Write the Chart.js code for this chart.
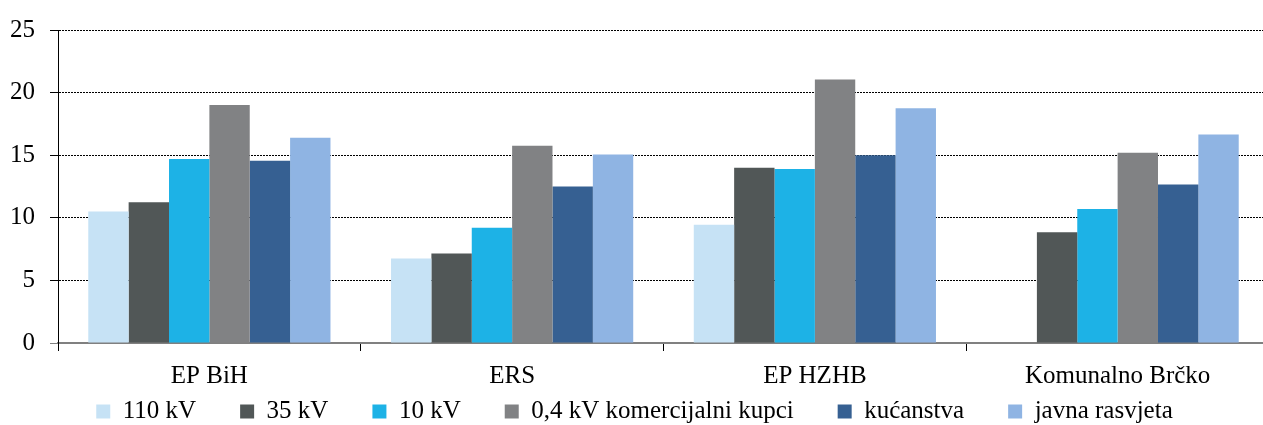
<!DOCTYPE html>
<html>
<head>
<meta charset="utf-8">
<script src="https://cdn.jsdelivr.net/npm/chart.js@4"></script>
<style>
  html, body { margin: 0; padding: 0; background: #fff; overflow: hidden; }
  #wrap { width: 1269px; height: 425px; }
  .warm { position: absolute; left: 0; top: 0; font-family: 'Times New Roman'; font-size: 25px; color: #fff; z-index: -1; }
</style>
</head>
<body>
<div class="warm">EP BiH ERS 0123456789 kućanstva Brčko kV</div>
<div id="wrap"><canvas id="tariffChart" width="1269" height="425"></canvas></div>
<script>
const companies = ["EP BiH", "ERS", "EP HZHB", "Komunalno Brčko"];
const yTicks = [0, 5, 10, 15, 20, 25];

// values per customer category
const kv110 = [10.5, 6.75, 9.45, null];
const kv35 = [11.25, 7.15, 14.0, 8.85];
const kv10 = [14.7, 9.2, 13.9, 10.7];
const kv04 = [19.0, 15.75, 21.05, 15.2];
const households = [14.55, 12.5, 15.0, 12.65];
const publicLight = [16.4, 15.05, 18.75, 16.65];

const seriesNames = ["110 kV", "35 kV", "10 kV", "0,4 kV komercijalni kupci", "kućanstva", "javna rasvjeta"];
const seriesColors = ["#C6E2F5", "#515757", "#1DB2E6", "#818284", "#366092", "#8FB4E3"];
const seriesData = [kv110, kv35, kv10, kv04, households, publicLight];

const serif = 'Times New Roman'; // maps to Liberation Serif

// x labels sit over the legend band, so widen the label clip box after layout
const labelRoom = {
  id: 'labelRoom',
  afterLayout(chart) {
    chart.scales.x.bottom = chart.height;
  }
};

function draw() {
  new Chart(document.getElementById("tariffChart"), {
    type: 'bar',
    data: {
      labels: companies,
      datasets: seriesData.map((d, i) => ({
        label: seriesNames[i],
        data: d,
        backgroundColor: seriesColors[i],
        borderWidth: 0,
        categoryPercentage: 0.8,
        barPercentage: 1.0
      }))
    },
    plugins: [labelRoom],
    options: {
      responsive: false,
      animation: false,
      layout: { padding: { top: 23, left: 0, right: 0, bottom: 0 } },
      plugins: {
        tooltip: { enabled: false },
        legend: {
          position: 'bottom',
          maxHeight: 70,
          labels: {
            boxWidth: 14,
            boxHeight: 14,
            padding: 44,
            color: '#000',
            font: { family: serif, size: 25 }
          }
        }
      },
      scales: {
        x: {
          grid: {
            offset: true,
            drawOnChartArea: false,
            drawTicks: true,
            tickLength: 8,
            color: '#000'
          },
          border: { color: '#808080', width: 2 },
          ticks: { color: '#000', padding: 10, font: { family: serif, size: 25 } },
          afterFit: (s) => { s.height = 12; }
        },
        y: {
          min: 0,
          max: 25,
          afterBuildTicks: (s) => { s.ticks = yTicks.map(v => ({ value: v })); },
          grid: {
            color: (c) => c.tick && c.tick.value === 0 ? 'rgba(0,0,0,0)' : '#000',
            tickColor: (c) => c.tick && c.tick.value === 0 ? '#808080' : '#000',
            lineWidth: 1,
            tickLength: 8
          },
          border: { color: '#000', width: 1, dash: [2, 1] },
          ticks: { color: '#000', padding: 15, font: { family: serif, size: 25 } },
          afterFit: (s) => { s.width = 58; }
        }
      }
    }
  });
}

document.fonts.load("25px 'Times New Roman'").then(draw, draw);
</script>
</body>
</html>
